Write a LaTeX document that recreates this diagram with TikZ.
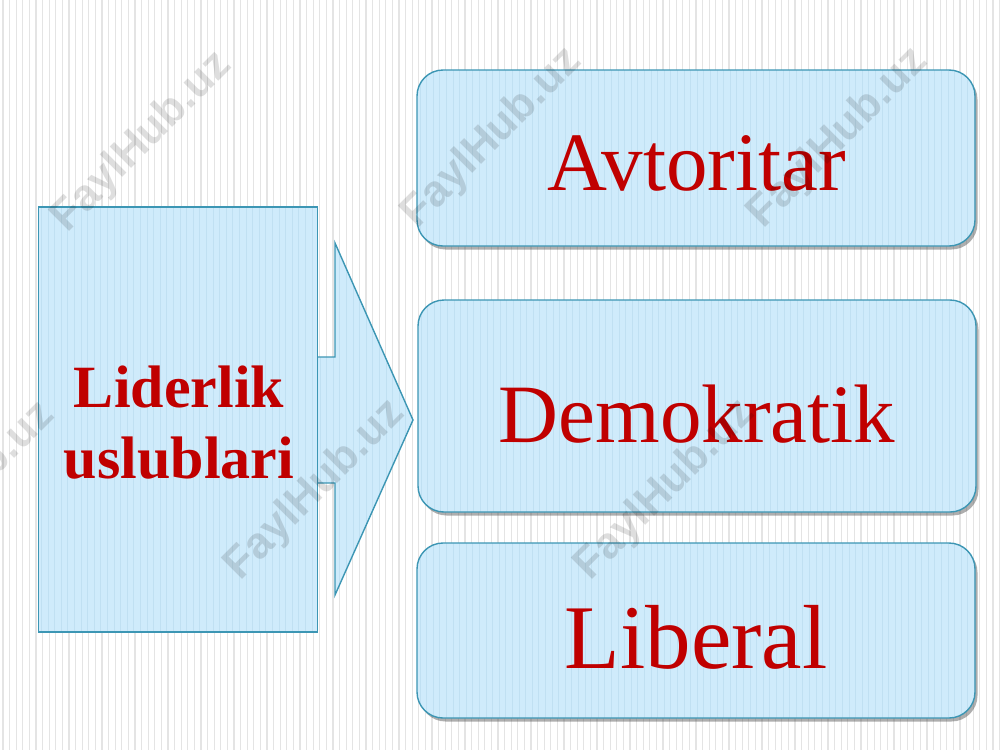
\documentclass[tikz,border=0pt]{standalone}
\usepackage{fontspec}
\setmainfont{Liberation Serif}
\newfontfamily\wmfont{Liberation Sans}
\usetikzlibrary{shadows}
\definecolor{boxfill}{RGB}{207,235,251}
\definecolor{boxstripe}{RGB}{192,224,242}
\definecolor{boxline}{RGB}{60,150,180}
\definecolor{txtred}{RGB}{192,0,0}
\definecolor{stripecol}{RGB}{228,228,228}
\tikzset{
  stripe/.style={draw=stripecol, line width=1.2pt},
  plainbox/.style={draw=boxline, line width=1.4pt, fill=boxfill,
    path picture={\foreach \i in {0,...,90}{\draw[draw=boxstripe, line width=1pt]
      ([xshift=\i*6.6pt+3pt]path picture bounding box.north west) --
      ([xshift=\i*6.6pt+3pt]path picture bounding box.south west);}}},
  rbox/.style={plainbox, rounded corners=26pt,
    drop shadow={shadow xshift=2.5pt, shadow yshift=-3.5pt, opacity=0.45, fill=black!70}},
  lbl/.style={text=txtred, inner sep=0pt, anchor=base},
  wm/.style={text=black, text opacity=0.13, rotate=45, font=\wmfont\bfseries\fontsize{44}{44}\selectfont}
}
\begin{document}
\begin{tikzpicture}[x=1pt,y=-1pt]
\useasboundingbox (0,0) rectangle (1000,750);
\fill[white] (0,0) rectangle (1000,750);
\foreach \x in {3,9.6,...,1000} \draw[stripe] (\x,0) -- (\x,750);
% left box and block arrow
\draw[plainbox] (317,357) -- (335,357) -- (335,243) -- (413,420) -- (335,595) -- (335,483) -- (317,483);
\node[plainbox, minimum width=279pt, minimum height=425pt, inner sep=0pt] (L) at (178,419.5) {};
% right rounded boxes
\node[rbox, minimum width=558pt, minimum height=176pt, inner sep=0pt] (B1) at (696,158) {};
\node[rbox, minimum width=558pt, minimum height=212pt, inner sep=0pt] (B2) at (697,406) {};
\node[rbox, minimum width=558pt, minimum height=175pt, inner sep=0pt] (B3) at (696,630.5) {};
% texts
\node[lbl, font=\bfseries\fontsize{60}{60}\selectfont] (t0a) at (179,407) {Liderlik};
\node[lbl, font=\bfseries\fontsize{60}{60}\selectfont] (t0b) at (179,478) {uslublari};
\node[lbl, font=\fontsize{83}{83}\selectfont] (t1) at (697,190) {Avtoritar};
\node[lbl, font=\fontsize{83}{83}\selectfont] (t2) at (697,442) {Demokratik};
\node[lbl, font=\fontsize{91}{91}\selectfont] (t3) at (696,668) {Liberal};
% watermarks
\node[wm] (w1) at (142,142) {FaylHub.uz};
\node[wm] (w2) at (492,138) {FaylHub.uz};
\node[wm] (w3) at (838,138) {FaylHub.uz};
\node[wm] (w4) at (-35,492) {FaylHub.uz};
\node[wm] (w5) at (315,490) {FaylHub.uz};
\node[wm] (w6) at (665,490) {FaylHub.uz};
\end{tikzpicture}
\end{document}
